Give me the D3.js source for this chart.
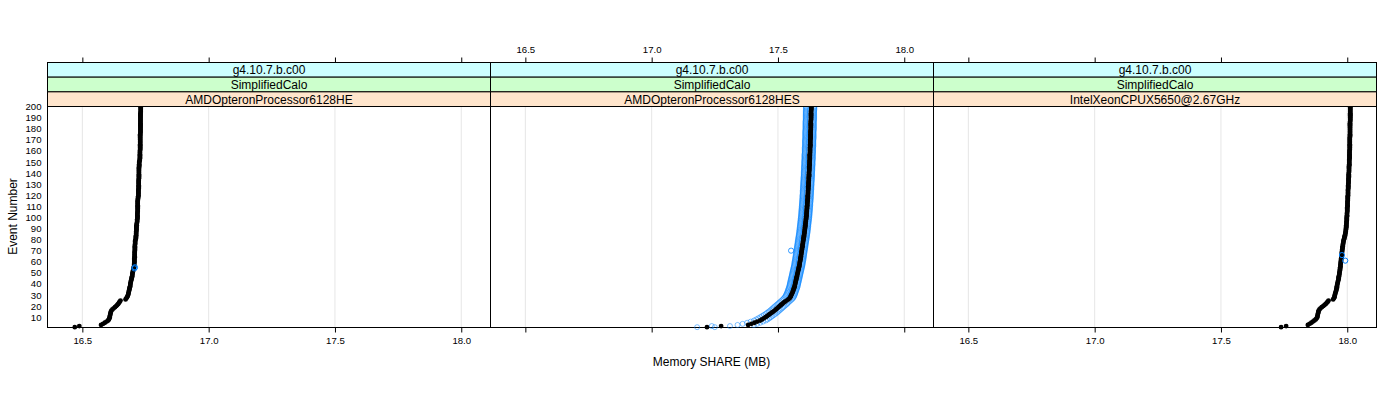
<!DOCTYPE html>
<html>
<head>
<meta charset="utf-8">
<script src="https://cdn.jsdelivr.net/npm/d3@7"></script>
<style>
  body { margin: 0; background: #fff; }
  svg { display: block; }
  text { font-family: "Liberation Sans", Arial, Helvetica, sans-serif; fill: #000; }
</style>
</head>
<body>
<svg id="chart" width="1400" height="400"></svg>
<script>
// ---------------- data ----------------
const versionLabel = "g4.10.7.b.c00";
const testLabel = "SimplifiedCalo";
const machineLabels = ["AMDOpteronProcessor6128HE", "AMDOpteronProcessor6128HES", "IntelXeonCPUX5650@2.67GHz"];
const xTickValues = [16.5, 17.0, 17.5, 18.0];
const yTickValues = [10,20,30,40,50,60,70,80,90,100,110,120,130,140,150,160,170,180,190,200];
const xTitle = "Memory SHARE (MB)";
const yTitle = "Event Number";

// memory SHARE (MB) for events 1..200, reference run (black)
const memAMD6128HE = [
16.470,16.488,16.574,16.582,16.589,16.596,16.602,16.605,16.607,16.608,
16.609,16.610,16.611,16.612,16.613,16.615,16.619,16.624,16.629,16.634,
16.638,16.642,16.645,16.648,16.651,16.671,16.674,16.677,16.679,16.681,
16.682,16.683,16.684,16.685,16.686,16.687,16.688,16.689,16.690,16.690,
16.691,16.692,16.693,16.694,16.695,16.696,16.697,16.698,16.698,16.699,
16.700,16.701,16.702,16.703,16.704,16.705,16.705,16.705,16.706,16.706,
16.706,16.706,16.706,16.707,16.707,16.707,16.707,16.707,16.707,16.708,
16.708,16.708,16.708,16.708,16.708,16.709,16.709,16.709,16.709,16.711,
16.712,16.712,16.712,16.713,16.713,16.713,16.713,16.714,16.714,16.714,
16.714,16.714,16.715,16.715,16.716,16.717,16.717,16.717,16.718,16.718,
16.718,16.718,16.718,16.718,16.719,16.719,16.719,16.719,16.719,16.719,
16.719,16.719,16.719,16.719,16.719,16.720,16.720,16.721,16.721,16.722,
16.722,16.722,16.722,16.722,16.722,16.723,16.723,16.723,16.723,16.723,
16.723,16.723,16.723,16.723,16.724,16.724,16.724,16.724,16.724,16.724,
16.724,16.724,16.724,16.724,16.724,16.725,16.725,16.725,16.725,16.725,
16.727,16.727,16.728,16.728,16.728,16.728,16.728,16.728,16.728,16.728,
16.729,16.729,16.729,16.729,16.729,16.729,16.729,16.729,16.729,16.729,
16.729,16.729,16.729,16.729,16.729,16.730,16.730,16.730,16.730,16.730,
16.730,16.730,16.730,16.730,16.730,16.730,16.730,16.730,16.730,16.730,
16.730,16.730,16.730,16.730,16.731,16.731,16.731,16.731,16.731,16.731];

const memAMD6128HES = [
17.219,17.275,17.382,17.395,17.407,17.418,17.430,17.437,17.444,17.451,
17.457,17.463,17.469,17.475,17.481,17.487,17.492,17.497,17.502,17.507,
17.512,17.517,17.522,17.528,17.534,17.541,17.546,17.549,17.551,17.553,
17.555,17.557,17.559,17.560,17.562,17.563,17.565,17.566,17.567,17.568,
17.569,17.570,17.571,17.572,17.573,17.574,17.575,17.576,17.577,17.578,
17.579,17.580,17.581,17.582,17.583,17.584,17.585,17.586,17.586,17.587,
17.588,17.589,17.589,17.590,17.591,17.591,17.592,17.593,17.593,17.594,
17.595,17.595,17.596,17.597,17.597,17.598,17.599,17.599,17.600,17.601,
17.601,17.602,17.603,17.603,17.604,17.605,17.605,17.606,17.606,17.607,
17.607,17.608,17.608,17.609,17.609,17.610,17.610,17.611,17.611,17.612,
17.612,17.613,17.613,17.613,17.614,17.614,17.614,17.615,17.615,17.615,
17.616,17.616,17.616,17.617,17.617,17.617,17.618,17.618,17.618,17.618,
17.619,17.619,17.619,17.619,17.620,17.620,17.620,17.620,17.621,17.621,
17.621,17.621,17.622,17.622,17.622,17.622,17.623,17.623,17.623,17.623,
17.623,17.624,17.624,17.624,17.624,17.624,17.625,17.625,17.625,17.625,
17.625,17.626,17.626,17.626,17.626,17.626,17.626,17.627,17.627,17.627,
17.627,17.627,17.627,17.628,17.628,17.628,17.628,17.628,17.628,17.628,
17.629,17.629,17.629,17.629,17.629,17.629,17.629,17.629,17.630,17.630,
17.630,17.630,17.630,17.630,17.630,17.630,17.630,17.631,17.631,17.631,
17.631,17.631,17.631,17.631,17.631,17.631,17.632,17.632,17.632,17.632];

const memXeonX5650 = [
17.738,17.758,17.844,17.851,17.858,17.864,17.870,17.875,17.879,17.881,
17.882,17.883,17.884,17.885,17.886,17.887,17.890,17.894,17.899,17.905,
17.910,17.915,17.919,17.923,17.926,17.944,17.947,17.949,17.950,17.951,
17.952,17.953,17.955,17.956,17.957,17.958,17.959,17.959,17.960,17.961,
17.962,17.963,17.964,17.965,17.966,17.966,17.967,17.968,17.969,17.969,
17.970,17.971,17.971,17.972,17.972,17.973,17.973,17.974,17.974,17.975,
17.975,17.976,17.976,17.977,17.977,17.978,17.978,17.979,17.979,17.980,
17.980,17.981,17.981,17.982,17.983,17.983,17.984,17.985,17.985,17.987,
17.988,17.989,17.990,17.991,17.992,17.993,17.994,17.994,17.995,17.995,
17.996,17.996,17.996,17.997,17.997,17.997,17.998,17.998,17.998,17.998,
17.999,17.999,17.999,17.999,18.000,18.000,18.000,18.000,18.000,18.001,
18.001,18.001,18.001,18.001,18.002,18.002,18.002,18.002,18.002,18.003,
18.003,18.003,18.003,18.003,18.003,18.004,18.004,18.004,18.004,18.004,
18.005,18.005,18.005,18.005,18.005,18.006,18.006,18.006,18.006,18.006,
18.007,18.007,18.007,18.007,18.007,18.007,18.008,18.008,18.008,18.008,
18.008,18.008,18.009,18.009,18.009,18.009,18.009,18.009,18.009,18.009,
18.010,18.010,18.010,18.010,18.010,18.010,18.010,18.010,18.010,18.010,
18.010,18.010,18.011,18.011,18.011,18.011,18.011,18.011,18.011,18.011,
18.011,18.011,18.011,18.011,18.011,18.011,18.012,18.012,18.012,18.012,
18.012,18.012,18.012,18.012,18.012,18.012,18.012,18.012,18.012,18.012];

// other runs (blue open circles), AMD 6128HES panel
const memHESRunLow = [
17.180,17.238,17.340,17.360,17.378,17.392,17.405,17.414,17.422,17.430,
17.437,17.444,17.451,17.457,17.463,17.469,17.474,17.479,17.484,17.489,
17.494,17.499,17.504,17.509,17.514,17.519,17.523,17.527,17.530,17.532,
17.534,17.536,17.538,17.539,17.541,17.542,17.544,17.545,17.546,17.547,
17.548,17.549,17.550,17.551,17.552,17.553,17.554,17.555,17.556,17.557,
17.558,17.559,17.560,17.561,17.562,17.563,17.564,17.565,17.565,17.566,
17.567,17.568,17.568,17.569,17.570,17.570,17.571,17.572,17.572,17.573,
17.574,17.574,17.575,17.576,17.576,17.577,17.578,17.578,17.579,17.580,
17.580,17.581,17.582,17.582,17.583,17.584,17.584,17.585,17.585,17.586,
17.586,17.587,17.587,17.588,17.588,17.589,17.589,17.590,17.590,17.591,
17.591,17.592,17.592,17.592,17.593,17.593,17.593,17.594,17.594,17.594,
17.595,17.595,17.595,17.596,17.596,17.596,17.597,17.597,17.597,17.597,
17.598,17.598,17.598,17.598,17.599,17.599,17.599,17.599,17.600,17.600,
17.600,17.600,17.601,17.601,17.601,17.601,17.602,17.602,17.602,17.602,
17.602,17.603,17.603,17.603,17.603,17.603,17.604,17.604,17.604,17.604,
17.604,17.605,17.605,17.605,17.605,17.605,17.605,17.606,17.606,17.606,
17.606,17.606,17.606,17.607,17.607,17.607,17.607,17.607,17.607,17.607,
17.608,17.608,17.608,17.608,17.608,17.608,17.608,17.608,17.609,17.609,
17.609,17.609,17.609,17.609,17.609,17.609,17.609,17.610,17.610,17.610,
17.610,17.610,17.610,17.610,17.610,17.610,17.611,17.611,17.611,17.611];

const memHESRunHigh = [
17.250,17.310,17.405,17.418,17.430,17.441,17.452,17.459,17.466,17.472,
17.478,17.484,17.490,17.496,17.501,17.506,17.511,17.516,17.521,17.526,
17.531,17.536,17.540,17.545,17.550,17.555,17.559,17.562,17.564,17.566,
17.568,17.569,17.571,17.572,17.574,17.575,17.577,17.578,17.579,17.580,
17.581,17.582,17.583,17.584,17.585,17.586,17.587,17.588,17.589,17.590,
17.591,17.592,17.593,17.594,17.595,17.596,17.597,17.598,17.598,17.599,
17.600,17.601,17.601,17.602,17.603,17.603,17.604,17.605,17.605,17.606,
17.607,17.607,17.608,17.609,17.609,17.610,17.611,17.611,17.612,17.613,
17.613,17.614,17.615,17.615,17.616,17.617,17.617,17.618,17.618,17.619,
17.619,17.620,17.620,17.621,17.621,17.622,17.622,17.623,17.623,17.624,
17.624,17.625,17.625,17.625,17.626,17.626,17.626,17.627,17.627,17.627,
17.628,17.628,17.628,17.629,17.629,17.629,17.630,17.630,17.630,17.630,
17.631,17.631,17.631,17.631,17.632,17.632,17.632,17.632,17.633,17.633,
17.633,17.633,17.634,17.634,17.634,17.634,17.635,17.635,17.635,17.635,
17.635,17.636,17.636,17.636,17.636,17.636,17.637,17.637,17.637,17.637,
17.637,17.638,17.638,17.638,17.638,17.638,17.638,17.639,17.639,17.639,
17.639,17.639,17.639,17.640,17.640,17.640,17.640,17.640,17.640,17.640,
17.641,17.641,17.641,17.641,17.641,17.641,17.641,17.641,17.642,17.642,
17.642,17.642,17.642,17.642,17.642,17.642,17.642,17.643,17.643,17.643,
17.643,17.643,17.643,17.643,17.643,17.643,17.644,17.644,17.644,17.644];

// isolated blue points (event, memory) that differ from the reference run
const outlierEventsHE = [54, 55];
const outlierMemHE = [16.706, 16.708];
const outlierEventsHES = [70];
const outlierMemHES = [17.552];
const outlierEventsX5650 = [61, 66];
const outlierMemX5650 = [17.992, 17.979];

// ---------------- layout ----------------
const svg = d3.select("#chart");
const W = 1400, H = 400;
svg.append("rect").attr("width", W).attr("height", H).attr("fill", "#fff");

const panelLeft0 = 47.5, panelW = 443;
const plotTop = 106.5, plotBottom = 327.5;
const stripTop = 62.5, stripH = 14.67;
const stripColors = ["#ccffff", "#ccffcc", "#ffe5cc"];
const blue = "#0080ff";
const fontTick = "9.6px", fontMain = "12px";

const y = d3.scaleLinear().domain([0.7, 200]).range([plotBottom, plotTop]);
const events = d3.range(1, 201);

const panels = [
  { label: machineLabels[0], black: memAMD6128HE, runs: [], outE: outlierEventsHE, outM: outlierMemHE, bottomLabels: true, topLabels: false },
  { label: machineLabels[1], black: memAMD6128HES, runs: [memHESRunLow, memHESRunHigh], outE: outlierEventsHES, outM: outlierMemHES, bottomLabels: false, topLabels: true },
  { label: machineLabels[2], black: memXeonX5650, runs: [], outE: outlierEventsX5650, outM: outlierMemX5650, bottomLabels: true, topLabels: false }
];

const xDomain = [16.362, 16.362 + panelW / 252.6];

panels.forEach((p, i) => {
  const left = panelLeft0 + i * panelW;
  const x = d3.scaleLinear().domain(xDomain).range([left, left + panelW]);
  const g = svg.append("g");

  // grid
  g.selectAll("line.grid").data(xTickValues).join("line")
    .attr("x1", d => x(d)).attr("x2", d => x(d))
    .attr("y1", plotTop).attr("y2", plotBottom)
    .attr("stroke", "#e6e6e6").attr("stroke-width", 1);

  // panel border (drawn under the points so the points sit on the axis)
  g.append("rect").attr("x", left).attr("y", plotTop).attr("width", panelW).attr("height", plotBottom - plotTop)
    .attr("fill", "none").attr("stroke", "#000").attr("stroke-width", 1);

  const pg = g.append("g");

  // other runs (blue)
  p.runs.forEach(run => {
    pg.append("g").selectAll("circle").data(events).join("circle")
      .attr("cx", e => x(run[e - 1])).attr("cy", e => y(e)).attr("r", 2.5)
      .attr("fill", "none").attr("stroke", blue).attr("stroke-width", 0.5);
  });
  if (p.runs.length > 0) {
    pg.append("g").selectAll("circle").data(p.outE).join("circle")
      .attr("cx", (e, k) => x(p.outM[k])).attr("cy", e => y(e)).attr("r", 2.6)
      .attr("fill", "none").attr("stroke", blue).attr("stroke-width", 0.8);
  }

  // reference run (black)
  pg.append("g").selectAll("circle").data(events).join("circle")
    .attr("cx", e => x(p.black[e - 1])).attr("cy", e => y(e)).attr("r", 2.4)
    .attr("fill", "#000");

  // outliers on top for panels with no spread
  if (p.runs.length === 0) {
    pg.append("g").selectAll("circle").data(p.outE).join("circle")
      .attr("cx", (e, k) => x(p.outM[k])).attr("cy", e => y(e)).attr("r", 2.6)
      .attr("fill", "none").attr("stroke", blue).attr("stroke-width", 1);
  }

  // strips (outer to inner)
  const stripTexts = [versionLabel, testLabel, p.label];
  stripTexts.forEach((t, k) => {
    const sy = stripTop + k * stripH;
    g.append("rect").attr("x", left).attr("y", sy).attr("width", panelW).attr("height", stripH)
      .attr("fill", stripColors[k]).attr("stroke", "#000").attr("stroke-width", 1);
    g.append("text").attr("x", left + panelW / 2).attr("y", sy + stripH / 2 + 0.5)
      .attr("text-anchor", "middle").attr("dominant-baseline", "central")
      .style("font-size", fontMain).text(t);
  });

  // bottom axis
  const bAxis = d3.axisBottom(x).tickValues(xTickValues).tickSize(5).tickSizeOuter(0)
    .tickFormat(p.bottomLabels ? d3.format(".1f") : () => "");
  const bg = svg.append("g").attr("transform", `translate(0,${plotBottom})`).call(bAxis);
  bg.select(".domain").remove();
  bg.selectAll(".tick line").attr("stroke", "#000");
  bg.selectAll(".tick text").attr("y", 10).style("font-size", fontTick).style("font-family", '"Liberation Sans", Arial, sans-serif');

  // top axis
  const tAxis = d3.axisTop(x).tickValues(xTickValues).tickSize(5).tickSizeOuter(0)
    .tickFormat(p.topLabels ? d3.format(".1f") : () => "");
  const tg = svg.append("g").attr("transform", `translate(0,${stripTop})`).call(tAxis);
  tg.select(".domain").remove();
  tg.selectAll(".tick line").attr("stroke", "#000");
  tg.selectAll(".tick text").attr("y", -10).style("font-size", fontTick).style("font-family", '"Liberation Sans", Arial, sans-serif');
});

// left axis (labels only)
const lAxis = d3.axisLeft(y).tickValues(yTickValues).tickSize(0).tickPadding(6).tickFormat(d3.format("d"));
const lg = svg.append("g").attr("transform", `translate(${panelLeft0},0)`).call(lAxis);
lg.select(".domain").remove();
lg.selectAll(".tick text").style("font-size", fontTick).style("font-family", '"Liberation Sans", Arial, sans-serif');

// titles
svg.append("text").attr("x", 711.5).attr("y", 362).attr("text-anchor", "middle")
  .attr("dominant-baseline", "central").style("font-size", fontMain).text(xTitle);
svg.append("text").attr("transform", "translate(12.5,216.5) rotate(-90)").attr("text-anchor", "middle")
  .attr("dominant-baseline", "central").style("font-size", fontMain).text(yTitle);
</script>
</body>
</html>
